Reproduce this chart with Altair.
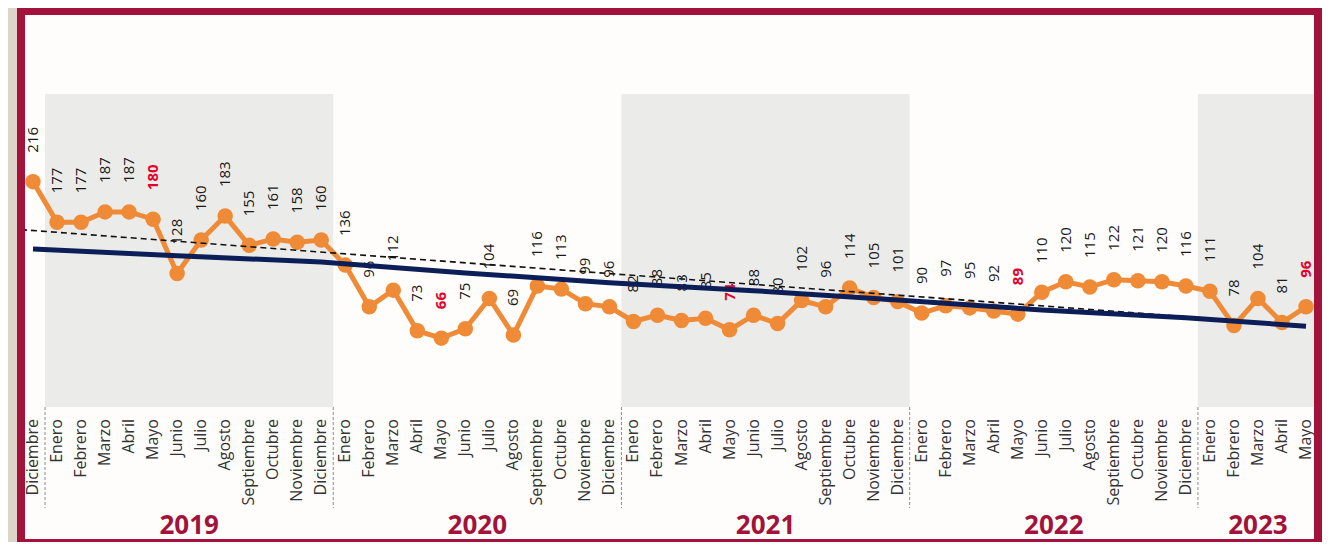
import altair as alt
import pandas as pd

# ---------------- data ----------------
month_names = ["Enero", "Febrero", "Marzo", "Abril", "Mayo", "Junio", "Julio",
               "Agosto", "Septiembre", "Octubre", "Noviembre", "Diciembre"]
months = ["Diciembre"] + month_names * 4 + month_names[:5]
years = ["2018"] + ["2019"] * 12 + ["2020"] * 12 + ["2021"] * 12 + ["2022"] * 12 + ["2023"] * 5

values = [216,
          177, 177, 187, 187, 180, 128, 160, 183, 155, 161, 158, 160,
          136, 96, 112, 73, 66, 75, 104, 69, 116, 113, 99, 96,
          82, 88, 83, 85, 74, 88, 80, 102, 96, 114, 105, 101,
          90, 97, 95, 92, 89, 110, 120, 115, 122, 121, 120, 116,
          111, 78, 104, 81, 96]

highlight_month = "Mayo"
year_labels = ["2019", "2020", "2021", "2022", "2023"]
shaded_years = ["2019", "2021", "2023"]

# trend lines
dashed_idx = [-0.5, 53]
dashed_val = [170, 78]
solid_idx = [0, 6, 12, 18, 24, 30, 36, 42, 48, 53]
solid_val = [151.5, 145, 139, 128.5, 119, 111.5, 102.5, 93, 85.5, 77.5]

# ---------------- tables ----------------
n = len(values)
df = pd.DataFrame({
    "idx": list(range(n)),
    "month": months,
    "year": years,
    "value": values,
})
df["hl"] = df["month"] == highlight_month

yr_rows = []
for y in year_labels:
    ids = [i for i, yy in enumerate(years) if yy == y]
    yr_rows.append({"year": y, "start": min(ids) - 0.5, "end": max(ids) + 0.5,
                    "center": (min(ids) + max(ids)) / 2, "shaded": y in shaded_years})
yr_df = pd.DataFrame(yr_rows)
band_df = yr_df[yr_df["shaded"]]

bounds = [i + 0.5 for i in range(n - 1)]

dashed_df = pd.DataFrame({"idx": dashed_idx, "value": dashed_val})
solid_df = pd.DataFrame({"idx": solid_idx, "value": solid_val})
one = pd.DataFrame({"k": [0]})

# ---------------- styling ----------------
W, H = 1297, 313
MAROON = "#a3123a"
ORANGE = "#ef8a37"
NAVY = "#0c1e58"
GRAY_BAND = "#ebebe9"
FONT = "Open Sans"

xscale = alt.Scale(domain=[-0.5, 53.5], nice=False, zero=False)
yscale = alt.Scale(domain=[0, 300], nice=False, zero=True)
xaxis = alt.Axis(values=bounds, labels=False, ticks=True, tickSize=5,
                 tickColor="#8c8c8c", tickWidth=1, domainColor="#8c8c8c",
                 domainWidth=1.5, grid=False, title=None, orient="bottom")


def X(field="idx"):
    return alt.X(f"{field}:Q", scale=xscale, axis=xaxis)


def Y(field="value"):
    return alt.Y(f"{field}:Q", scale=yscale, axis=None)


panel = alt.Chart(one).mark_rect(color="#fefdfb").encode(
    x=alt.value(4), x2=alt.value(1293), y=alt.value(-79), y2=alt.value(445))

bands = alt.Chart(band_df).mark_rect(color=GRAY_BAND).encode(
    x=alt.X("start:Q", scale=xscale, axis=xaxis), x2="end:Q",
    y=alt.value(0), y2=alt.value(H))

seps = alt.Chart(yr_df).mark_rule(color="#8c8c8c", strokeDash=[3, 2], strokeWidth=1).encode(
    x=alt.X("start:Q", scale=xscale, axis=xaxis), y=alt.value(H), y2=alt.value(414))

month_text = alt.Chart(df).mark_text(
    angle=270, align="right", baseline="middle", font=FONT, fontSize=16,
    color="#333333").encode(x=X(), y=alt.value(325), text="month:N")

year_text = alt.Chart(yr_df).mark_text(
    align="center", baseline="middle", font=FONT, fontSize=26, fontWeight="bold",
    color=MAROON).encode(x=alt.X("center:Q", scale=xscale, axis=xaxis),
                         y=alt.value(432), text="year:N")

series_line = alt.Chart(df).mark_line(color=ORANGE, strokeWidth=5).encode(x=X(), y=Y())
series_pts = alt.Chart(df).mark_circle(color=ORANGE, size=240, opacity=1).encode(x=X(), y=Y())

lab_norm = alt.Chart(df).transform_filter("!datum.hl").mark_text(
    angle=270, align="left", baseline="middle", font=FONT, fontSize=15,
    color="#1a1a1a", yOffset=-29).encode(x=X(), y=Y(), text="value:Q")
lab_hl = alt.Chart(df).transform_filter("datum.hl").mark_text(
    angle=270, align="left", baseline="middle", font=FONT, fontSize=15,
    fontWeight="bold", color="#e3002b", yOffset=-29).encode(x=X(), y=Y(), text="value:Q")

dashed = alt.Chart(dashed_df).mark_line(color="#111111", strokeWidth=1.6,
                                        strokeDash=[6, 4]).encode(x=X(), y=Y())
solid = alt.Chart(solid_df).mark_line(color=NAVY, strokeWidth=5).encode(x=X(), y=Y())

b_left = alt.Chart(one).mark_rect(color=MAROON).encode(
    x=alt.value(-4), x2=alt.value(4), y=alt.value(-86), y2=alt.value(448))
b_right = alt.Chart(one).mark_rect(color=MAROON).encode(
    x=alt.value(1293), x2=alt.value(1301), y=alt.value(-86), y2=alt.value(448))
b_top = alt.Chart(one).mark_rect(color=MAROON).encode(
    x=alt.value(-4), x2=alt.value(1301), y=alt.value(-86), y2=alt.value(-79))
b_bot = alt.Chart(one).mark_rect(color=MAROON).encode(
    x=alt.value(-4), x2=alt.value(1301), y=alt.value(445), y2=alt.value(448))

chart = alt.layer(
    panel, bands, seps, month_text, year_text,
    series_line, series_pts, lab_norm, lab_hl, dashed, solid,
    b_left, b_right, b_top, b_bot,
).properties(
    width=W, height=H,
    padding={"left": 13, "top": 86, "right": 4, "bottom": 135},
    autosize=alt.AutoSizeParams(type="none"),
    background="#ddd5c8",
).configure_view(stroke=None)

chart.save("out.html", embed_options={"renderer": "svg", "actions": False})
